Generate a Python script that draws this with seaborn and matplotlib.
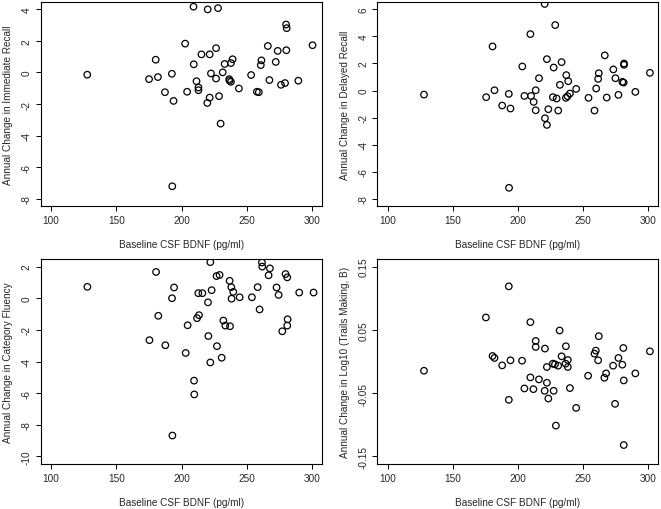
import numpy as np
import pandas as pd
import seaborn as sns
import matplotlib
matplotlib.use("Agg")
import matplotlib.pyplot as plt

# Valeurs (BDNF de base et changement annuel)
x_immediate = [127.7, 175.1, 180.2, 181.9, 187.3, 192.6, 192.9, 193.9, 202.8, 204.3,
               209.2, 209.4, 211.5, 213.0, 213.0, 215.3, 219.8, 220.1, 221.6, 221.6,
               222.6, 226.5, 226.5, 228.0, 228.8, 230.0, 231.6, 233.1, 236.6, 236.9,
               237.9, 237.9, 239.2, 244.0, 253.4, 257.8, 259.3, 261.3, 260.8, 266.2,
               267.4, 272.3, 273.8, 276.3, 279.4, 280.2, 280.7, 280.4, 289.6, 300.5]
y_immediate = [-0.14, -0.42, 0.81, -0.29, -1.25, -0.08, -7.21, -1.80, 1.83, -1.22,
               4.17, 0.52, -0.55, -0.95, -1.12, 1.15, -1.93, 4.00, 1.15, -1.59,
               -0.06, 1.54, -0.38, 4.08, -1.50, -3.24, 0.01, 0.54, -0.42, -0.52,
               0.60, -0.59, 0.84, -1.01, -0.16, -1.22, -1.25, 0.77, 0.47, 1.68,
               -0.48, 0.67, 1.37, -0.78, -0.67, 3.04, 2.81, 1.41, -0.52, 1.73]

x_delayed = [127.8, 175.6, 180.5, 182.0, 187.9, 193.0, 193.2, 194.3, 203.4, 205.0,
             209.6, 210.1, 212.1, 213.7, 213.7, 216.2, 220.6, 220.8, 222.3, 222.3,
             223.4, 226.9, 227.5, 228.7, 229.8, 231.0, 232.3, 233.6, 236.9, 237.2,
             238.2, 238.7, 240.0, 244.8, 254.3, 258.9, 260.2, 261.7, 262.2, 266.8,
             268.3, 273.4, 275.0, 277.3, 280.3, 281.3, 281.6, 281.6, 290.3, 301.5]
y_delayed = [-0.30, -0.49, 3.26, 0.02, -1.11, -0.25, -7.19, -1.33, 1.78, -0.40,
             4.17, -0.40, -0.84, 0.02, -1.46, 0.91, 6.40, -2.05, 2.32, -2.54,
             -1.38, -0.49, 1.70, 4.84, -0.59, -1.48, 0.42, 2.10, -0.54, 1.14,
             -0.42, 0.69, -0.22, 0.12, -0.54, -1.48, 0.15, 0.86, 1.28, 2.60,
             -0.52, 1.56, 0.91, -0.32, 0.64, 0.59, 1.90, 2.00, -0.10, 1.31]

x_fluency = [127.8, 175.4, 180.5, 182.2, 187.6, 192.7, 193.0, 194.3, 203.2, 204.7,
             209.6, 209.8, 211.9, 213.4, 212.9, 216.0, 220.3, 220.6, 222.1, 222.1,
             223.1, 226.9, 227.2, 229.2, 230.8, 232.1, 233.6, 236.9, 237.2, 238.2,
             238.4, 239.7, 244.6, 254.0, 258.4, 259.9, 261.7, 261.9, 266.8, 267.8,
             272.9, 274.5, 277.3, 279.8, 281.1, 281.4, 281.1, 290.3, 301.3]
y_fluency = [0.72, -2.65, 1.66, -1.11, -2.97, 0.00, -8.68, 0.68, -3.46, -1.71,
             -5.21, -6.08, -1.26, -1.07, 0.32, 0.32, -0.26, -2.39, 2.28, -4.06,
             0.51, 1.40, -3.03, 1.47, -3.76, -1.41, -1.73, 1.10, -1.77, 0.70,
             -0.03, 0.40, 0.06, 0.06, 0.70, -0.71, 2.26, 2.00, 1.45, 1.89,
             0.68, 0.21, -2.09, 1.53, 1.32, -1.33, -1.73, 0.36, 0.36]

x_trails = [127.8, 175.4, 180.5, 182.0, 187.9, 193.0, 193.0, 194.3, 203.2, 205.0,
            209.6, 209.6, 211.9, 213.7, 213.7, 216.2, 220.6, 220.8, 222.3, 222.3,
            223.4, 226.9, 227.5, 228.5, 229.2, 231.0, 232.1, 233.6, 236.9, 236.7,
            238.4, 238.4, 240.0, 244.8, 254.0, 258.9, 259.9, 261.7, 262.2, 266.5,
            267.8, 273.2, 274.7, 277.3, 280.3, 281.1, 281.4, 281.4, 290.3, 301.5]
y_trails = [-0.0146, 0.0696, 0.0087, 0.0056, -0.0061, 0.1188, -0.0606, 0.0019, 0.0013, -0.0426,
            -0.0251, 0.0622, -0.0437, 0.0325, 0.0230, -0.0283, -0.0463, 0.0204, -0.0087, -0.0336,
            -0.0585, -0.0034, -0.0463, -0.0045, -0.1013, -0.0066, 0.0490, 0.0082, 0.0241, -0.0034,
            0.0024, -0.0087, -0.0420, -0.0733, -0.0225, 0.0124, 0.0172, 0.0019, 0.0400, -0.0257,
            -0.0188, -0.0066, -0.0669, 0.0056, -0.0050, 0.0214, -0.0299, -0.1320, -0.0188, 0.0161]

ylabels = ["Annual Change in Immediate Recall", "Annual Change in Delayed Recall",
           "Annual Change in Category Fluency", "Annual Change in Log10 (Trails Making, B)"]
xlabel = "Baseline CSF BDNF (pg/ml)"

sns.set_style("ticks")
plt.rcParams['font.family'] = ['Liberation Sans', 'DejaVu Sans']
plt.rcParams['axes.unicode_minus'] = False

fig = plt.figure(figsize=(6.61, 5.10), dpi=100)

# positions des panneaux (fractions de la figure)
positions = [[0.0616, 0.5935, 0.426, 0.401],
             [0.5710, 0.5935, 0.425, 0.401],
             [0.0616, 0.0882, 0.426, 0.402],
             [0.5710, 0.0882, 0.425, 0.402]]

panels = [(x_immediate, y_immediate, [4, 2, 0, -2, -4, -6, -8], (-8, 4), "%d"),
          (x_delayed, y_delayed, [6, 4, 2, 0, -2, -4, -6, -8], (-8, 6), "%d"),
          (x_fluency, y_fluency, [2, 0, -2, -4, -6, -8, -10], (-10, 2), "%d"),
          (x_trails, y_trails, [0.15, 0.05, -0.05, -0.15], (-0.15, 0.15), "%.2f")]

for i, (xs, ys, yticks, (ylo, yhi), fmt) in enumerate(panels):
    ax = fig.add_axes(positions[i])
    df = pd.DataFrame({'x': xs, 'y': ys})
    sns.scatterplot(data=df, x='x', y='y', ax=ax, s=22, marker='o',
                    facecolors='none', edgecolor='black', linewidth=0.9)
    pad = (yhi - ylo) * 0.04
    ax.set_ylim(ylo - pad, yhi + pad)
    ax.set_xlim(92, 308)
    ax.set_xticks([100, 150, 200, 250, 300])
    ax.set_yticks(yticks)
    ax.set_yticklabels([fmt % t for t in yticks], rotation=90, va='center')
    ax.tick_params(axis='both', direction='out', length=3.6, width=0.7,
                   labelsize=7.2, pad=3, color='black')
    ax.set_xlabel(xlabel, fontsize=7.2, labelpad=10)
    ax.set_ylabel(ylabels[i], fontsize=7.2, labelpad=6)
    for sp in ax.spines.values():
        sp.set_visible(True)
        sp.set_linewidth(0.8)
        sp.set_color('black')

fig.savefig("out.png", dpi=100)
